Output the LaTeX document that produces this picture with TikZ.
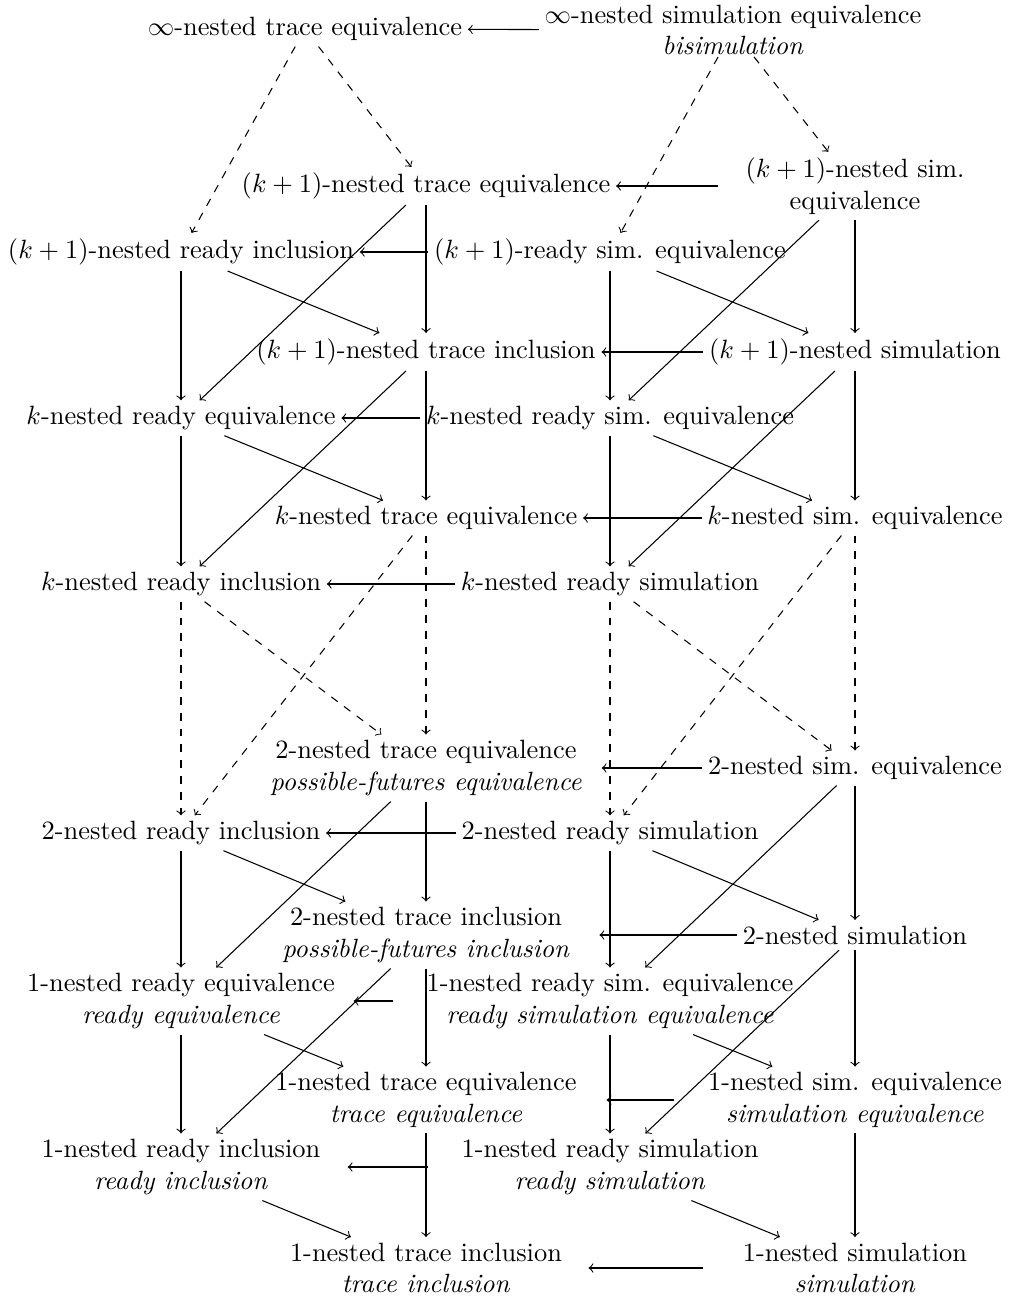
\documentclass[tikz,border=0pt]{standalone}
\usepackage{amssymb}
\usepackage{amsmath}
\usepackage{tikz}

\begin{document}
\begin{tikzpicture}[x=1.33cm, y=-1.33cm,
		lbl/.style={inner sep=2pt},
		two/.style={lbl, align=center},
		imp/.style={->},
		dimp/.style={->, dashed}]
		    \useasboundingbox (0,0) rectangle (10.11,13);
		    \begin{scope}
					% livello infinito
					\node[lbl] (inftr) at (3.05,0.29) {$\infty$-nested trace equivalence};
					\node[two, inner ysep=0.5pt] (bisim) at (7.33,0.30) {$\infty$-nested simulation equivalence\\\textit{bisimulation}};

					% livello k+1
					\node[lbl] (tek1) at (4.26,1.86) {$(k+1)$-nested trace equivalence};
					\node[two, minimum width=3.64cm] (sek1) at (8.55,1.86) {$(k+1)$-nested sim.\\equivalence};
					\node[lbl] (rik1) at (1.81,2.52) {$(k+1)$-nested ready inclusion};
					\node[lbl] (rsek1) at (6.10,2.52) {$(k+1)$-ready sim. equivalence};
					\node[lbl] (tik1) at (4.26,3.52) {$(k+1)$-nested trace inclusion};
					\node[lbl] (sk1) at (8.55,3.52) {$(k+1)$-nested simulation};

					% livello k
					\node[lbl] (rek) at (1.81,4.18) {$k$-nested ready equivalence};
					\node[lbl] (rsek) at (6.10,4.18) {$k$-nested ready sim. equivalence};
					\node[lbl] (tek) at (4.26,5.18) {$k$-nested trace equivalence};
					\node[lbl] (sek) at (8.55,5.18) {$k$-nested sim. equivalence};
					\node[lbl] (rik) at (1.81,5.84) {$k$-nested ready inclusion};
					\node[lbl] (rsk) at (6.10,5.84) {$k$-nested ready simulation};

					% livello 2
					\node[two, minimum width=4.66cm] (te2) at (4.26,7.68) {2-nested trace equivalence\\\textit{possible-futures equivalence}};
					\node[lbl] (se2) at (8.55,7.68) {2-nested sim. equivalence};
					\node[lbl] (ri2) at (1.81,8.33) {2-nested ready inclusion};
					\node[lbl] (rs2) at (6.10,8.33) {2-nested ready simulation};
					\node[two, minimum width=4.60cm] (ti2) at (4.26,9.35) {2-nested trace inclusion\\\textit{possible-futures inclusion}};
					\node[lbl] (s2) at (8.55,9.35) {2-nested simulation};

					% livello 1
					\node[two, minimum width=4.58cm] (re1) at (1.81,10.01) {1-nested ready equivalence\\\textit{ready equivalence}};
					\node[two, minimum width=5.77cm] (rse1) at (6.10,10.01) {1-nested ready sim. equivalence\\\textit{ready simulation equivalence}};
					\node[two, minimum width=4.79cm] (te1) at (4.26,11.00) {1-nested trace equivalence\\\textit{trace equivalence}};
					\node[two, minimum width=4.79cm] (se1) at (8.55,11.00) {1-nested sim. equivalence\\\textit{simulation equivalence}};
					\node[two, minimum width=4.42cm] (ri1) at (1.81,11.67) {1-nested ready inclusion\\\textit{ready inclusion}};
					\node[two, minimum width=4.84cm] (rs1) at (6.10,11.67) {1-nested ready simulation\\\textit{ready simulation}};
					\node[two, minimum width=4.31cm] (ti1) at (4.26,12.68) {1-nested trace inclusion\\\textit{trace inclusion}};
					\node[two, minimum width=4.02cm] (s1) at (8.55,12.68) {1-nested simulation\\\textit{simulation}};

					% frecce
					\draw[imp] (bisim) -- (inftr);
					\draw[dimp] (inftr) -- (rik1);
					\draw[dimp] (inftr) -- (tek1);
					\draw[dimp] (bisim) -- (rsek1);
					\draw[dimp] (bisim) -- (sek1);

					\draw[imp] (sek1) -- (tek1);
					\draw[imp] (rsek1) -- (rik1);
					\draw[imp] (tek1) -- (rek);
					\draw[imp] (tek1) -- (tik1);
					\draw[imp] (rik1) -- (tik1);
					\draw[imp] (rik1) -- (rek);
					\draw[imp] (sek1) -- (rsek);
					\draw[imp] (sek1) -- (sk1);
					\draw[imp] (rsek1) -- (sk1);
					\draw[imp] (rsek1) -- (rsek);
					\draw[imp] (sk1) -- (tik1);
					\draw[imp] (tik1) -- (tek);
					\draw[imp] (tik1) -- (rik);
					\draw[imp] (sk1) -- (sek);
					\draw[imp] (sk1) -- (rsk);

					\draw[imp] (rsek) -- (rek);
					\draw[imp] (rek) -- (tek);
					\draw[imp] (rek) -- (rik);
					\draw[imp] (rsek) -- (sek);
					\draw[imp] (rsek) -- (rsk);
					\draw[imp] (sek) -- (tek);
					\draw[imp] (rsk) -- (rik);

					\draw[dimp] (tek) -- (ri2);
					\draw[dimp] (tek) -- (te2);
					\draw[dimp] (rik) -- (te2);
					\draw[dimp] (rik) -- (ri2);
					\draw[dimp] (sek) -- (rs2);
					\draw[dimp] (sek) -- (se2);
					\draw[dimp] (rsk) -- (se2);
					\draw[dimp] (rsk) -- (rs2);

					\draw[imp] (se2) -- (te2);
					\draw[imp] (rs2) -- (ri2);
					\draw[imp] (te2) -- (ti2);
					\draw[imp] (te2) -- (re1);
					\draw[imp] (ri2) -- (ti2);
					\draw[imp] (ri2) -- (re1);
					\draw[imp] (se2) -- (s2);
					\draw[imp] (se2) -- (rse1);
					\draw[imp] (rs2) -- (s2);
					\draw[imp] (rs2) -- (rse1);
					\draw[imp] (s2) -- (ti2);
					\draw[imp] (ti2) -- (te1);
					\draw[imp] (ti2) -- (ri1);
					\draw[imp] (s2) -- (se1);
					\draw[imp] (s2) -- (rs1);

					\draw[imp] (rse1) -- (re1);
					\draw[imp] (re1) -- (te1);
					\draw[imp] (re1) -- (ri1);
					\draw[imp] (rse1) -- (se1);
					\draw[imp] (rse1) -- (rs1);
					\draw[imp] (se1) -- (te1);
					\draw[imp] (te1) -- (ti1);
					\draw[imp] (ri1) -- (ti1);
					\draw[imp] (se1) -- (s1);
					\draw[imp] (rs1) -- (s1);
					\draw[imp] (rs1) -- (ri1);
					\draw[imp] (s1) -- (ti1);
		    \end{scope}
		  \end{tikzpicture}
\end{document}
